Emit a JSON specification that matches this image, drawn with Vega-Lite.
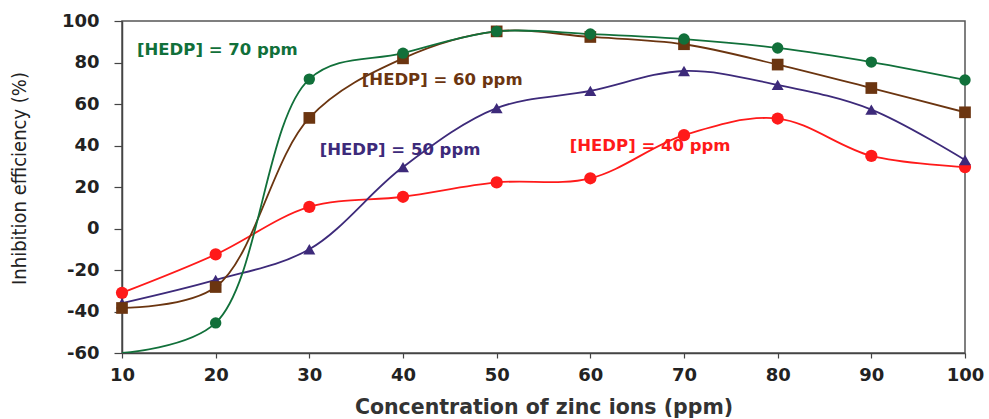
{
  "$schema": "https://vega.github.io/schema/vega-lite/v6.json",
  "width": 843,
  "height": 332,
  "autosize": "none",
  "padding": {"left": 122, "top": 21, "right": 24, "bottom": 66},
  "config": {
    "view": {"stroke": "#555555", "strokeWidth": 1.5},
    "font": "DejaVu Sans",
    "axis": {
      "labelFont": "DejaVu Sans",
      "labelFontWeight": "bold",
      "labelFontSize": 18,
      "labelColor": "#222222",
      "labelFlush": false,
      "labelExpr": "'' + datum.value",
      "domainColor": "#444444",
      "domainWidth": 1.5,
      "tickColor": "#444444",
      "tickWidth": 1.2,
      "grid": false
    }
  },
  "datasets": {
    "series": [
      {"zinc": 10, "ie": -31, "hedp": "40"},
      {"zinc": 20, "ie": -12.5, "hedp": "40"},
      {"zinc": 30, "ie": 10.4, "hedp": "40"},
      {"zinc": 40, "ie": 15.3, "hedp": "40"},
      {"zinc": 50, "ie": 22.2, "hedp": "40"},
      {"zinc": 60, "ie": 24.2, "hedp": "40"},
      {"zinc": 70, "ie": 45, "hedp": "40"},
      {"zinc": 80, "ie": 53, "hedp": "40"},
      {"zinc": 90, "ie": 35, "hedp": "40"},
      {"zinc": 100, "ie": 29.6, "hedp": "40"},
      {"zinc": 10, "ie": -36, "hedp": "50"},
      {"zinc": 20, "ie": -24.8, "hedp": "50"},
      {"zinc": 30, "ie": -10, "hedp": "50"},
      {"zinc": 40, "ie": 29.6, "hedp": "50"},
      {"zinc": 50, "ie": 58, "hedp": "50"},
      {"zinc": 60, "ie": 66.3, "hedp": "50"},
      {"zinc": 70, "ie": 75.9, "hedp": "50"},
      {"zinc": 80, "ie": 69.2, "hedp": "50"},
      {"zinc": 90, "ie": 57.3, "hedp": "50"},
      {"zinc": 100, "ie": 33, "hedp": "50"},
      {"zinc": 10, "ie": -38.3, "hedp": "60"},
      {"zinc": 20, "ie": -28.2, "hedp": "60"},
      {"zinc": 30, "ie": 53.3, "hedp": "60"},
      {"zinc": 40, "ie": 82, "hedp": "60"},
      {"zinc": 50, "ie": 95, "hedp": "60"},
      {"zinc": 60, "ie": 92.3, "hedp": "60"},
      {"zinc": 70, "ie": 88.8, "hedp": "60"},
      {"zinc": 80, "ie": 79, "hedp": "60"},
      {"zinc": 90, "ie": 67.7, "hedp": "60"},
      {"zinc": 100, "ie": 56, "hedp": "60"},
      {"zinc": 10, "ie": -60, "hedp": "70"},
      {"zinc": 20, "ie": -45.5, "hedp": "70"},
      {"zinc": 30, "ie": 72, "hedp": "70"},
      {"zinc": 40, "ie": 84.5, "hedp": "70"},
      {"zinc": 50, "ie": 95, "hedp": "70"},
      {"zinc": 60, "ie": 93.7, "hedp": "70"},
      {"zinc": 70, "ie": 91.3, "hedp": "70"},
      {"zinc": 80, "ie": 87, "hedp": "70"},
      {"zinc": 90, "ie": 80.2, "hedp": "70"},
      {"zinc": 100, "ie": 71.6, "hedp": "70"}
    ],
    "labels": [
      {"zinc": 11.6, "ie": 86, "hedp": "70", "label": "[HEDP] = 70 ppm"},
      {"zinc": 35.6, "ie": 71.6, "hedp": "60", "label": "[HEDP] = 60 ppm"},
      {"zinc": 31.1, "ie": 37.8, "hedp": "50", "label": "[HEDP] = 50 ppm"},
      {"zinc": 57.8, "ie": 39.8, "hedp": "40", "label": "[HEDP] = 40 ppm"}
    ]
  },
  "layer": [
    {
      "data": {"name": "series"},
      "mark": {"type": "line", "interpolate": "catmull-rom", "strokeWidth": 1.8, "clip": true},
      "encoding": {
        "x": {"field": "zinc", "type": "quantitative",
              "scale": {"domain": [10, 100], "nice": false, "zero": false},
              "axis": {"values": [10, 20, 30, 40, 50, 60, 70, 80, 90, 100], "tickSize": 5, "labelPadding": 8,
                       "title": "Concentration of zinc ions (ppm)", "titleFont": "DejaVu Sans", "titleFontSize": 20.5,
                       "titleFontWeight": "bold", "titleColor": "#333333", "titlePadding": 13}},
        "y": {"field": "ie", "type": "quantitative",
              "scale": {"domain": [-60, 100], "nice": false, "zero": false},
              "axis": {"values": [-60, -40, -20, 0, 20, 40, 60, 80, 100], "tickSize": 8, "labelPadding": 15,
                       "title": "Inhibition efficiency (%)", "titleFont": "DejaVu Sans Condensed", "titleFontSize": 20,
                       "titleFontWeight": "normal", "titleColor": "#222222", "titlePadding": 32, "titleY": 157}},
        "color": {"field": "hedp", "type": "nominal", "legend": null,
                  "scale": {"domain": ["40", "50", "60", "70"], "range": ["#ff1a1a", "#3d2a7a", "#6b3510", "#11703a"]}},
        "detail": {"field": "hedp"}
      }
    },
    {
      "data": {"name": "series"},
      "transform": [{"filter": "datum.ie > -59"}],
      "mark": {"type": "point", "filled": true, "opacity": 1},
      "encoding": {
        "x": {"field": "zinc", "type": "quantitative"},
        "y": {"field": "ie", "type": "quantitative"},
        "color": {"field": "hedp", "type": "nominal", "legend": null},
        "shape": {"field": "hedp", "type": "nominal", "legend": null,
                  "scale": {"domain": ["40", "50", "60", "70"], "range": ["circle", "triangle-up", "square", "circle"]}},
        "size": {"field": "hedp", "type": "nominal", "legend": null,
                 "scale": {"domain": ["40", "50", "60", "70"], "range": [150, 130, 170, 150]}}
      }
    },
    {
      "data": {"name": "labels"},
      "mark": {"type": "text", "align": "left", "baseline": "middle", "font": "DejaVu Sans", "fontWeight": "bold", "fontSize": 16.5},
      "encoding": {
        "x": {"field": "zinc", "type": "quantitative"},
        "y": {"field": "ie", "type": "quantitative"},
        "text": {"field": "label"},
        "color": {"field": "hedp", "type": "nominal", "legend": null}
      }
    }
  ]
}
